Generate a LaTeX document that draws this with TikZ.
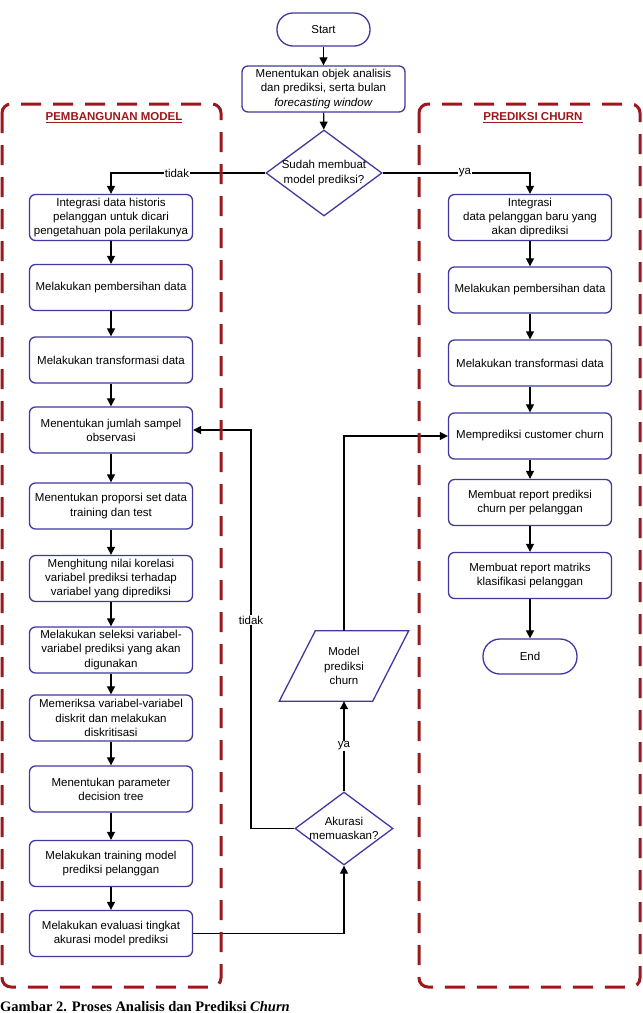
\documentclass[tikz,border=0pt]{standalone}
\usepackage{fontspec}
\setmainfont{Liberation Sans}
\newfontfamily\capfont{Liberation Serif}
\usetikzlibrary{shapes.geometric,arrows.meta}
\definecolor{boxblue}{RGB}{64,56,160}
\definecolor{darkred}{RGB}{155,25,28}
\begin{document}
\begin{tikzpicture}[x=1pt,y=-1pt,font=\fontsize{11.5}{14.2}\selectfont,
  proc/.style={draw=boxblue,line width=1.3pt,rounded corners=6pt,minimum width=163pt,minimum height=46pt,align=center,inner sep=2pt,fill=white},
  term/.style={proc,rounded corners=16pt,minimum width=93pt,minimum height=33pt},
  dec/.style={draw=boxblue,line width=1.3pt,diamond,inner sep=0pt,fill=white},
  arr/.style={-{Triangle[length=8pt,width=8pt]},line width=1.2pt},
  conn/.style={line width=1.2pt},
  lbl/.style={fill=white,inner sep=1pt},
  grp/.style={draw=darkred,line width=3pt,dash pattern=on 20pt off 12pt,rounded corners=9pt},
  ttl/.style={text=darkred,font=\fontsize{11.5}{14}\selectfont\bfseries}]
\useasboundingbox (0,0) rectangle (643,1013);
% top
\node[term] (start) at (323.5,29.5) {Start};
\node[proc] (obj) at (323.5,89) {Menentukan objek analisis\\dan prediksi, serta bulan\\\textit{forecasting window}};
\node[dec,minimum width=116pt,minimum height=86pt,label={[align=center]center:{Sudah membuat\\model prediksi?}}] (d1) at (324,173) {};
% left column
\node[proc] (L1) at (111,217.5) {Integrasi data historis\\pelanggan untuk dicari\\pengetahuan pola perilakunya};
\node[proc] (L2) at (111,287.5) {Melakukan pembersihan data};
\node[proc] (L3) at (111,360) {Melakukan transformasi data};
\node[proc] (L4) at (111,430) {Menentukan jumlah sampel\\observasi};
\node[proc] (L5) at (111,506) {Menentukan proporsi set data\\training dan test};
\node[proc] (L6) at (111,578.5) {Menghitung nilai korelasi\\variabel prediksi terhadap\\variabel yang diprediksi};
\node[proc] (L7) at (111,650) {Melakukan seleksi variabel-\\variabel prediksi yang akan\\digunakan};
\node[proc] (L8) at (111,718) {Memeriksa variabel-variabel\\diskrit dan melakukan\\diskritisasi};
\node[proc] (L9) at (111,789) {Menentukan parameter\\decision tree};
\node[proc] (L10) at (111,863.5) {Melakukan training model\\prediksi pelanggan};
\node[proc] (L11) at (111,933.5) {Melakukan evaluasi tingkat\\akurasi model prediksi};
% right column
\node[proc] (R1) at (530,217.5) {Integrasi\\data pelanggan baru yang\\akan diprediksi};
\node[proc] (R2) at (530,290) {Melakukan pembersihan data};
\node[proc] (R3) at (530,363) {Melakukan transformasi data};
\node[proc] (R4) at (530,436) {Memprediksi customer churn};
\node[proc] (R5) at (530,502.5) {Membuat report prediksi\\churn per pelanggan};
\node[proc] (R6) at (530,575.5) {Membuat report matriks\\klasifikasi pelanggan};
\node[term,minimum width=94pt,minimum height=35pt,rounded corners=17pt] (end) at (530,656.5) {End};
% middle
\node[align=center,minimum width=93pt,minimum height=70pt,inner sep=0pt] (model) at (344,666) {Model\\prediksi\\churn};
\draw[draw=boxblue,line width=1.3pt] ([xshift=-18pt]model.south west) -- ([xshift=18pt]model.north west) -- ([xshift=18pt]model.north east) -- ([xshift=-18pt]model.south east) -- cycle;
\node[dec,minimum width=98pt,minimum height=73pt,label={[align=center]center:{Akurasi\\memuaskan?}}] (d2) at (344,828.5) {};
\coordinate (loop) at (251,828.5);
% connectors
\draw[arr] (start) -- (obj);
\draw[arr] (obj) -- (d1);
\draw[arr] (d1.west) -| (L1.north);
\draw[arr] (d1.east) -| (R1.north);
\draw[arr] (L1) -- (L2);
\draw[arr] (L2) -- (L3);
\draw[arr] (L3) -- (L4);
\draw[arr] (L4) -- (L5);
\draw[arr] (L5) -- (L6);
\draw[arr] (L6) -- (L7);
\draw[arr] (L7) -- (L8);
\draw[arr] (L8) -- (L9);
\draw[arr] (L9) -- (L10);
\draw[arr] (L10) -- (L11);
\draw[arr] (R1) -- (R2);
\draw[arr] (R2) -- (R3);
\draw[arr] (R3) -- (R4);
\draw[arr] (R4) -- (R5);
\draw[arr] (R5) -- (R6);
\draw[arr] (R6) -- (end);
\draw[arr] (L11.east) -| (d2.south);
\draw[arr] (d2.north) -- (model.south);
\draw[arr] (model.north) |- (R4.west);
\draw[arr] (d2.west) -- (loop) |- (L4.east);
% labels
\node[lbl] (tidak1) at (177,173) {tidak};
\node[lbl] (ya1) at (465,173) {ya};
\node[lbl] (tidak2) at (251,620) {tidak};
\node[lbl] (ya2) at (344,746) {ya};
% groups
\draw[grp] (2,104) rectangle (221,987);
\draw[grp] (419,104) rectangle (640,987);
\node[ttl] (t1) at (114,118) {\underline{PEMBANGUNAN MODEL}};
\node[ttl] (t2) at (533,118) {\underline{PREDIKSI CHURN}};
% caption
\node[anchor=base west,inner sep=0pt,font=\capfont\bfseries\fontsize{14.5}{16}\selectfont] (cap) at (0,1011.5) {Gambar 2. Proses Analisis dan Prediksi \textit{Churn}};
\end{tikzpicture}
\end{document}
